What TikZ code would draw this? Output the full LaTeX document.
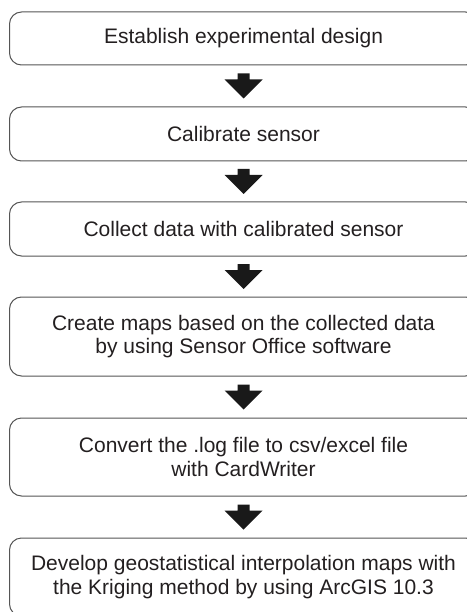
\documentclass[tikz,border=0pt]{standalone}
\usepackage{fontspec}
\setmainfont{Liberation Sans}
\usetikzlibrary{calc}
\definecolor{boxline}{HTML}{555555}
\definecolor{txt}{HTML}{231F20}
\tikzset{
  flowbox/.style={draw=boxline, line width=1pt, rounded corners=12pt,
    minimum width=468pt, align=center, text=txt,
    font=\fontsize{21}{23.5}\selectfont, inner sep=0pt},
  blockarrow/.style={fill=black!90, draw=none}
}
\newcommand{\downarrowat}[1]{%
  \fill[blockarrow] ($(#1)+(-6,-12.5)$) -- ($(#1)+(6,-12.5)$) -- ($(#1)+(6,-6.5)$)
    -- ($(#1)+(19,-6.5)$) -- ($(#1)+(0,12.5)$) -- ($(#1)+(-19,-6.5)$)
    -- ($(#1)+(-6,-6.5)$) -- cycle;}
\begin{document}
\begin{tikzpicture}[x=1pt,y=-1pt]
\useasboundingbox (0,0) rectangle (466,612);
\node[flowbox, minimum height=53pt] (b1) at (243.5,38.5) {Establish experimental design};
\node[flowbox, minimum height=54pt] (b2) at (243.5,134) {Calibrate sensor};
\node[flowbox, minimum height=54pt] (b3) at (243.5,229) {Collect data with calibrated sensor};
\node[flowbox, minimum height=79pt] (b4) at (243.5,336.5) {Create maps based on the collected data\\by using Sensor Office software};
\node[flowbox, minimum height=78pt] (b5) at (243.5,457) {Convert the .log file to csv/excel file\\with CardWriter};
\node[flowbox, minimum height=78pt] (b6) at (243.5,577) {Develop geostatistical interpolation maps with\\the Kriging method by using ArcGIS 10.3};
\coordinate (m1) at ($(b1.south)!0.5!(b2.north)$);
\coordinate (m2) at ($(b2.south)!0.5!(b3.north)$);
\coordinate (m3) at ($(b3.south)!0.5!(b4.north)$);
\coordinate (m4) at ($(b4.south)!0.5!(b5.north)$);
\coordinate (m5) at ($(b5.south)!0.5!(b6.north)$);
\downarrowat{m1}
\downarrowat{m2}
\downarrowat{m3}
\downarrowat{m4}
\downarrowat{m5}
\end{tikzpicture}
\end{document}
